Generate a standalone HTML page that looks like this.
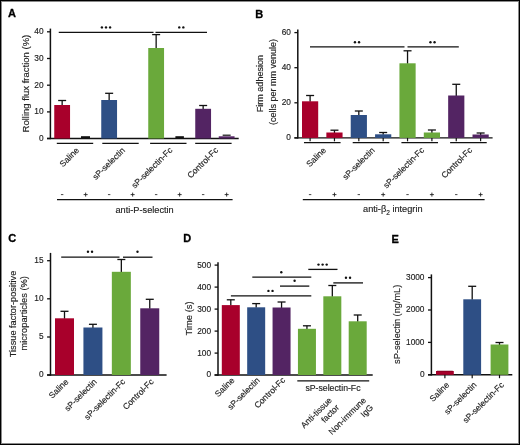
<!DOCTYPE html>
<html><head><meta charset="utf-8"><style>
html,body{margin:0;padding:0;background:#fff;}
body{width:520px;height:445px;overflow:hidden;position:relative;}
svg{position:absolute;left:0;top:0;will-change:transform;}
text{font-family:"Liberation Sans", sans-serif;}
.frame{position:absolute;left:0;top:0;width:520px;height:445px;box-sizing:border-box;border:1px solid #000;}
.frame2{position:absolute;left:1px;top:1px;width:518px;height:443px;box-sizing:border-box;border:1px solid #8a8a8a;}
</style></head><body>
<svg width="520" height="445" viewBox="0 0 520 445">
<text x="8" y="17.3" font-size="11" text-anchor="start" font-weight="bold" fill="#000" stroke="#000" stroke-width="0.3">A</text>
<line x1="50.4" y1="28.6" x2="50.4" y2="139.2" stroke="#111" stroke-width="1.5"/>
<line x1="47.0" y1="31.8" x2="50.4" y2="31.8" stroke="#111" stroke-width="1.3"/>
<text x="43.5" y="34.29" font-size="8.3" text-anchor="end" font-weight="normal" fill="#222" stroke="#222" stroke-width="0.15">40</text>
<line x1="47.0" y1="58.5" x2="50.4" y2="58.5" stroke="#111" stroke-width="1.3"/>
<text x="43.5" y="60.99" font-size="8.3" text-anchor="end" font-weight="normal" fill="#222" stroke="#222" stroke-width="0.15">30</text>
<line x1="47.0" y1="85.2" x2="50.4" y2="85.2" stroke="#111" stroke-width="1.3"/>
<text x="43.5" y="87.69" font-size="8.3" text-anchor="end" font-weight="normal" fill="#222" stroke="#222" stroke-width="0.15">20</text>
<line x1="47.0" y1="111.9" x2="50.4" y2="111.9" stroke="#111" stroke-width="1.3"/>
<text x="43.5" y="114.39" font-size="8.3" text-anchor="end" font-weight="normal" fill="#222" stroke="#222" stroke-width="0.15">10</text>
<line x1="47.0" y1="138.5" x2="50.4" y2="138.5" stroke="#111" stroke-width="1.3"/>
<text x="43.5" y="140.99" font-size="8.3" text-anchor="end" font-weight="normal" fill="#222" stroke="#222" stroke-width="0.15">0</text>
<line x1="47" y1="138.5" x2="238.7" y2="138.5" stroke="#111" stroke-width="1.4"/>
<line x1="62.15" y1="100.5" x2="62.15" y2="105.5" stroke="#111" stroke-width="1.3"/>
<line x1="58.15" y1="100.5" x2="66.15" y2="100.5" stroke="#111" stroke-width="1.3"/>
<rect x="54.25" y="105" width="15.8" height="33.5" fill="#a8002b"/>
<rect x="81" y="136.2" width="9" height="1.8" fill="#111"/>
<line x1="109.15" y1="93.3" x2="109.15" y2="100.5" stroke="#111" stroke-width="1.3"/>
<line x1="105.15" y1="93.3" x2="113.15" y2="93.3" stroke="#111" stroke-width="1.3"/>
<rect x="101.25" y="100" width="15.8" height="38.5" fill="#2e4f85"/>
<line x1="156.15" y1="34.6" x2="156.15" y2="48.5" stroke="#111" stroke-width="1.3"/>
<line x1="152.15" y1="34.6" x2="160.15" y2="34.6" stroke="#111" stroke-width="1.3"/>
<rect x="148.25" y="48" width="15.8" height="90.5" fill="#6aa93b"/>
<rect x="175.4" y="136.2" width="8.5" height="1.8" fill="#111"/>
<line x1="203.15" y1="105.5" x2="203.15" y2="109.3" stroke="#111" stroke-width="1.3"/>
<line x1="199.15" y1="105.5" x2="207.15" y2="105.5" stroke="#111" stroke-width="1.3"/>
<rect x="195.25" y="108.8" width="15.8" height="29.700000000000003" fill="#532463"/>
<rect x="218.75" y="136.3" width="15.8" height="2.2" fill="#532463"/>
<line x1="222.65" y1="135.2" x2="230.65" y2="135.2" stroke="#111" stroke-width="1.2"/>
<line x1="58.75" y1="32.4" x2="153.5" y2="32.4" stroke="#111" stroke-width="1.3"/>
<circle cx="101.90" cy="27.4" r="1.2" fill="#111"/>
<circle cx="106.00" cy="27.4" r="1.2" fill="#111"/>
<circle cx="110.10" cy="27.4" r="1.2" fill="#111"/>
<line x1="155.5" y1="32.4" x2="207" y2="32.4" stroke="#111" stroke-width="1.3"/>
<circle cx="179.25" cy="27.4" r="1.2" fill="#111"/>
<circle cx="183.35" cy="27.4" r="1.2" fill="#111"/>
<line x1="56.8" y1="143.4" x2="93.2" y2="143.4" stroke="#111" stroke-width="1.3"/>
<line x1="102.3" y1="143.4" x2="138.7" y2="143.4" stroke="#111" stroke-width="1.3"/>
<line x1="150.10000000000002" y1="143.4" x2="186.5" y2="143.4" stroke="#111" stroke-width="1.3"/>
<line x1="195.20000000000002" y1="143.4" x2="231.6" y2="143.4" stroke="#111" stroke-width="1.3"/>
<line x1="60.949999999999996" y1="194.6" x2="63.35" y2="194.6" stroke="#333" stroke-width="0.9"/>
<line x1="83.65" y1="194.6" x2="87.65" y2="194.6" stroke="#222" stroke-width="0.9"/>
<line x1="85.65" y1="192.6" x2="85.65" y2="196.6" stroke="#222" stroke-width="0.9"/>
<line x1="107.95" y1="194.6" x2="110.35000000000001" y2="194.6" stroke="#333" stroke-width="0.9"/>
<line x1="130.65" y1="194.6" x2="134.65" y2="194.6" stroke="#222" stroke-width="0.9"/>
<line x1="132.65" y1="192.6" x2="132.65" y2="196.6" stroke="#222" stroke-width="0.9"/>
<line x1="154.95000000000002" y1="194.6" x2="157.35" y2="194.6" stroke="#333" stroke-width="0.9"/>
<line x1="177.65" y1="194.6" x2="181.65" y2="194.6" stroke="#222" stroke-width="0.9"/>
<line x1="179.65" y1="192.6" x2="179.65" y2="196.6" stroke="#222" stroke-width="0.9"/>
<line x1="201.95000000000002" y1="194.6" x2="204.35" y2="194.6" stroke="#333" stroke-width="0.9"/>
<line x1="224.65" y1="194.6" x2="228.65" y2="194.6" stroke="#222" stroke-width="0.9"/>
<line x1="226.65" y1="192.6" x2="226.65" y2="196.6" stroke="#222" stroke-width="0.9"/>
<line x1="57" y1="199.6" x2="232.6" y2="199.6" stroke="#111" stroke-width="1.4"/>
<text x="144.6" y="213.2" font-size="9.2" text-anchor="middle" font-weight="normal" fill="#222" stroke="#222" stroke-width="0.15">anti-P-selectin</text>
<text x="79.6" y="150.8" font-size="8.5" text-anchor="end" font-weight="normal" fill="#222" stroke="#222" stroke-width="0.15" transform="rotate(-45 79.6 150.8)">Saline</text>
<text x="125.5" y="150.8" font-size="8.5" text-anchor="end" font-weight="normal" fill="#222" stroke="#222" stroke-width="0.15" transform="rotate(-45 125.5 150.8)">sP-selectin</text>
<text x="173" y="150.8" font-size="8.5" text-anchor="end" font-weight="normal" fill="#222" stroke="#222" stroke-width="0.15" transform="rotate(-45 173 150.8)">sP-selectin-Fc</text>
<text x="218.8" y="150.8" font-size="8.5" text-anchor="end" font-weight="normal" fill="#222" stroke="#222" stroke-width="0.15" transform="rotate(-45 218.8 150.8)">Control-Fc</text>
<text x="28.6" y="83.6" font-size="9.5" text-anchor="middle" font-weight="normal" fill="#222" stroke="#222" stroke-width="0.15" transform="rotate(-90 28.6 83.6)">Rolling flux fraction (%)</text>
<text x="255.3" y="17.6" font-size="11" text-anchor="start" font-weight="bold" fill="#000" stroke="#000" stroke-width="0.3">B</text>
<line x1="297.8" y1="29.6" x2="297.8" y2="138.6" stroke="#111" stroke-width="1.5"/>
<line x1="294.40000000000003" y1="32.6" x2="297.8" y2="32.6" stroke="#111" stroke-width="1.3"/>
<text x="290.90000000000003" y="35.09" font-size="8.3" text-anchor="end" font-weight="normal" fill="#222" stroke="#222" stroke-width="0.15">60</text>
<line x1="294.40000000000003" y1="67.7" x2="297.8" y2="67.7" stroke="#111" stroke-width="1.3"/>
<text x="290.90000000000003" y="70.19" font-size="8.3" text-anchor="end" font-weight="normal" fill="#222" stroke="#222" stroke-width="0.15">40</text>
<line x1="294.40000000000003" y1="102.8" x2="297.8" y2="102.8" stroke="#111" stroke-width="1.3"/>
<text x="290.90000000000003" y="105.28999999999999" font-size="8.3" text-anchor="end" font-weight="normal" fill="#222" stroke="#222" stroke-width="0.15">20</text>
<line x1="294.40000000000003" y1="137.9" x2="297.8" y2="137.9" stroke="#111" stroke-width="1.3"/>
<text x="290.90000000000003" y="140.39000000000001" font-size="8.3" text-anchor="end" font-weight="normal" fill="#222" stroke="#222" stroke-width="0.15">0</text>
<line x1="294.4" y1="137.9" x2="492.6" y2="137.9" stroke="#111" stroke-width="1.4"/>
<line x1="310.1" y1="95.5" x2="310.1" y2="101.8" stroke="#111" stroke-width="1.3"/>
<line x1="306.1" y1="95.5" x2="314.1" y2="95.5" stroke="#111" stroke-width="1.3"/>
<rect x="302.0" y="101.3" width="16.2" height="36.60000000000001" fill="#a8002b"/>
<line x1="334.46000000000004" y1="130.2" x2="334.46000000000004" y2="133.0" stroke="#111" stroke-width="1.3"/>
<line x1="330.46000000000004" y1="130.2" x2="338.46000000000004" y2="130.2" stroke="#111" stroke-width="1.3"/>
<rect x="326.36" y="132.5" width="16.2" height="5.400000000000006" fill="#a8002b"/>
<line x1="358.82000000000005" y1="111" x2="358.82000000000005" y2="115.5" stroke="#111" stroke-width="1.3"/>
<line x1="354.82000000000005" y1="111" x2="362.82000000000005" y2="111" stroke="#111" stroke-width="1.3"/>
<rect x="350.72" y="115" width="16.2" height="22.900000000000006" fill="#2e4f85"/>
<line x1="383.18" y1="132.5" x2="383.18" y2="134.8" stroke="#111" stroke-width="1.3"/>
<line x1="379.18" y1="132.5" x2="387.18" y2="132.5" stroke="#111" stroke-width="1.3"/>
<rect x="375.08" y="134.3" width="16.2" height="3.5999999999999943" fill="#2e4f85"/>
<line x1="407.54" y1="50.8" x2="407.54" y2="63.8" stroke="#111" stroke-width="1.3"/>
<line x1="403.54" y1="50.8" x2="411.54" y2="50.8" stroke="#111" stroke-width="1.3"/>
<rect x="399.44" y="63.3" width="16.2" height="74.60000000000001" fill="#6aa93b"/>
<line x1="431.90000000000003" y1="130" x2="431.90000000000003" y2="133.0" stroke="#111" stroke-width="1.3"/>
<line x1="427.90000000000003" y1="130" x2="435.90000000000003" y2="130" stroke="#111" stroke-width="1.3"/>
<rect x="423.8" y="132.5" width="16.2" height="5.400000000000006" fill="#6aa93b"/>
<line x1="456.26" y1="84.3" x2="456.26" y2="96.0" stroke="#111" stroke-width="1.3"/>
<line x1="452.26" y1="84.3" x2="460.26" y2="84.3" stroke="#111" stroke-width="1.3"/>
<rect x="448.15999999999997" y="95.5" width="16.2" height="42.400000000000006" fill="#532463"/>
<line x1="480.62" y1="133" x2="480.62" y2="135.0" stroke="#111" stroke-width="1.3"/>
<line x1="476.62" y1="133" x2="484.62" y2="133" stroke="#111" stroke-width="1.3"/>
<rect x="472.52" y="134.5" width="16.2" height="3.4000000000000057" fill="#532463"/>
<line x1="310.1" y1="137.9" x2="310.1" y2="141.3" stroke="#111" stroke-width="1.2"/>
<line x1="334.46000000000004" y1="137.9" x2="334.46000000000004" y2="141.3" stroke="#111" stroke-width="1.2"/>
<line x1="358.82000000000005" y1="137.9" x2="358.82000000000005" y2="141.3" stroke="#111" stroke-width="1.2"/>
<line x1="383.18" y1="137.9" x2="383.18" y2="141.3" stroke="#111" stroke-width="1.2"/>
<line x1="407.54" y1="137.9" x2="407.54" y2="141.3" stroke="#111" stroke-width="1.2"/>
<line x1="431.90000000000003" y1="137.9" x2="431.90000000000003" y2="141.3" stroke="#111" stroke-width="1.2"/>
<line x1="456.26" y1="137.9" x2="456.26" y2="141.3" stroke="#111" stroke-width="1.2"/>
<line x1="480.62" y1="137.9" x2="480.62" y2="141.3" stroke="#111" stroke-width="1.2"/>
<line x1="303.98" y1="142.7" x2="340.58000000000004" y2="142.7" stroke="#111" stroke-width="1.3"/>
<line x1="352.7" y1="142.7" x2="389.3" y2="142.7" stroke="#111" stroke-width="1.3"/>
<line x1="401.42" y1="142.7" x2="438.02000000000004" y2="142.7" stroke="#111" stroke-width="1.3"/>
<line x1="450.14" y1="142.7" x2="486.74" y2="142.7" stroke="#111" stroke-width="1.3"/>
<line x1="310" y1="46.9" x2="404.5" y2="46.9" stroke="#111" stroke-width="1.3"/>
<circle cx="354.95" cy="42.3" r="1.2" fill="#111"/>
<circle cx="359.05" cy="42.3" r="1.2" fill="#111"/>
<line x1="407.5" y1="46.9" x2="458.8" y2="46.9" stroke="#111" stroke-width="1.3"/>
<circle cx="430.45" cy="42.3" r="1.2" fill="#111"/>
<circle cx="434.55" cy="42.3" r="1.2" fill="#111"/>
<line x1="308.90000000000003" y1="194.6" x2="311.3" y2="194.6" stroke="#333" stroke-width="0.9"/>
<line x1="332.46000000000004" y1="194.6" x2="336.46000000000004" y2="194.6" stroke="#222" stroke-width="0.9"/>
<line x1="334.46000000000004" y1="192.6" x2="334.46000000000004" y2="196.6" stroke="#222" stroke-width="0.9"/>
<line x1="357.62000000000006" y1="194.6" x2="360.02000000000004" y2="194.6" stroke="#333" stroke-width="0.9"/>
<line x1="381.18" y1="194.6" x2="385.18" y2="194.6" stroke="#222" stroke-width="0.9"/>
<line x1="383.18" y1="192.6" x2="383.18" y2="196.6" stroke="#222" stroke-width="0.9"/>
<line x1="406.34000000000003" y1="194.6" x2="408.74" y2="194.6" stroke="#333" stroke-width="0.9"/>
<line x1="429.90000000000003" y1="194.6" x2="433.90000000000003" y2="194.6" stroke="#222" stroke-width="0.9"/>
<line x1="431.90000000000003" y1="192.6" x2="431.90000000000003" y2="196.6" stroke="#222" stroke-width="0.9"/>
<line x1="455.06" y1="194.6" x2="457.46" y2="194.6" stroke="#333" stroke-width="0.9"/>
<line x1="478.62" y1="194.6" x2="482.62" y2="194.6" stroke="#222" stroke-width="0.9"/>
<line x1="480.62" y1="192.6" x2="480.62" y2="196.6" stroke="#222" stroke-width="0.9"/>
<line x1="302.8" y1="199.6" x2="484.6" y2="199.6" stroke="#111" stroke-width="1.4"/>
<text x="392.8" y="212.4" font-size="9.2" text-anchor="middle" fill="#222" stroke="#222" stroke-width="0.15">anti-β<tspan font-size="6.5" dy="2.2">2</tspan><tspan dy="-2.2"> integrin</tspan></text>
<text x="326.5" y="150.8" font-size="8.5" text-anchor="end" font-weight="normal" fill="#222" stroke="#222" stroke-width="0.15" transform="rotate(-45 326.5 150.8)">Saline</text>
<text x="375.3" y="150.8" font-size="8.5" text-anchor="end" font-weight="normal" fill="#222" stroke="#222" stroke-width="0.15" transform="rotate(-45 375.3 150.8)">sP-selectin</text>
<text x="424.8" y="150.8" font-size="8.5" text-anchor="end" font-weight="normal" fill="#222" stroke="#222" stroke-width="0.15" transform="rotate(-45 424.8 150.8)">sP-selectin-Fc</text>
<text x="472.8" y="150.8" font-size="8.5" text-anchor="end" font-weight="normal" fill="#222" stroke="#222" stroke-width="0.15" transform="rotate(-45 472.8 150.8)">Control-Fc</text>
<text x="263.4" y="83.6" font-size="9" text-anchor="middle" font-weight="normal" fill="#222" stroke="#222" stroke-width="0.15" transform="rotate(-90 263.4 83.6)">Firm adhesion</text>
<text x="275.6" y="82.1" font-size="9" text-anchor="middle" font-weight="normal" fill="#222" stroke="#222" stroke-width="0.15" transform="rotate(-90 275.6 82.1)">(cells per mm venule)</text>
<text x="8.3" y="242.2" font-size="11" text-anchor="start" font-weight="bold" fill="#000" stroke="#000" stroke-width="0.3">C</text>
<line x1="50.5" y1="252.9" x2="50.5" y2="375.7" stroke="#111" stroke-width="1.5"/>
<line x1="47.1" y1="260.7" x2="50.5" y2="260.7" stroke="#111" stroke-width="1.3"/>
<text x="43.6" y="263.19" font-size="8.3" text-anchor="end" font-weight="normal" fill="#222" stroke="#222" stroke-width="0.15">15</text>
<line x1="47.1" y1="298.8" x2="50.5" y2="298.8" stroke="#111" stroke-width="1.3"/>
<text x="43.6" y="301.29" font-size="8.3" text-anchor="end" font-weight="normal" fill="#222" stroke="#222" stroke-width="0.15">10</text>
<line x1="47.1" y1="337" x2="50.5" y2="337" stroke="#111" stroke-width="1.3"/>
<text x="43.6" y="339.49" font-size="8.3" text-anchor="end" font-weight="normal" fill="#222" stroke="#222" stroke-width="0.15">5</text>
<line x1="47.1" y1="375" x2="50.5" y2="375" stroke="#111" stroke-width="1.3"/>
<text x="43.6" y="377.49" font-size="8.3" text-anchor="end" font-weight="normal" fill="#222" stroke="#222" stroke-width="0.15">0</text>
<line x1="47.1" y1="375" x2="166.6" y2="375" stroke="#111" stroke-width="1.4"/>
<line x1="64.5" y1="311.3" x2="64.5" y2="318.8" stroke="#111" stroke-width="1.3"/>
<line x1="60.5" y1="311.3" x2="68.5" y2="311.3" stroke="#111" stroke-width="1.3"/>
<rect x="55.0" y="318.3" width="19" height="56.69999999999999" fill="#a8002b"/>
<line x1="92.92" y1="324.3" x2="92.92" y2="328.0" stroke="#111" stroke-width="1.3"/>
<line x1="88.92" y1="324.3" x2="96.92" y2="324.3" stroke="#111" stroke-width="1.3"/>
<rect x="83.42" y="327.5" width="19" height="47.5" fill="#2e4f85"/>
<line x1="121.34" y1="259.5" x2="121.34" y2="272.3" stroke="#111" stroke-width="1.3"/>
<line x1="117.34" y1="259.5" x2="125.34" y2="259.5" stroke="#111" stroke-width="1.3"/>
<rect x="111.84" y="271.8" width="19" height="103.19999999999999" fill="#6aa93b"/>
<line x1="149.76" y1="299.3" x2="149.76" y2="308.8" stroke="#111" stroke-width="1.3"/>
<line x1="145.76" y1="299.3" x2="153.76" y2="299.3" stroke="#111" stroke-width="1.3"/>
<rect x="140.26" y="308.3" width="19" height="66.69999999999999" fill="#532463"/>
<line x1="61.2" y1="257.2" x2="119.5" y2="257.2" stroke="#111" stroke-width="1.3"/>
<circle cx="87.95" cy="251.8" r="1.2" fill="#111"/>
<circle cx="92.05" cy="251.8" r="1.2" fill="#111"/>
<line x1="123" y1="257.2" x2="152.5" y2="257.2" stroke="#111" stroke-width="1.3"/>
<circle cx="137.50" cy="251.8" r="1.2" fill="#111"/>
<text x="69.0" y="382.3" font-size="8.5" text-anchor="end" font-weight="normal" fill="#222" stroke="#222" stroke-width="0.15" transform="rotate(-45 69.0 382.3)">Saline</text>
<text x="97.42" y="382.3" font-size="8.5" text-anchor="end" font-weight="normal" fill="#222" stroke="#222" stroke-width="0.15" transform="rotate(-45 97.42 382.3)">sP-selectin</text>
<text x="125.84" y="382.3" font-size="8.5" text-anchor="end" font-weight="normal" fill="#222" stroke="#222" stroke-width="0.15" transform="rotate(-45 125.84 382.3)">sP-selectin-Fc</text>
<text x="154.26" y="382.3" font-size="8.5" text-anchor="end" font-weight="normal" fill="#222" stroke="#222" stroke-width="0.15" transform="rotate(-45 154.26 382.3)">Control-Fc</text>
<text x="15.8" y="314" font-size="9.2" text-anchor="middle" font-weight="normal" fill="#222" stroke="#222" stroke-width="0.15" transform="rotate(-90 15.8 314)">Tissue factor-positive</text>
<text x="27.4" y="313.3" font-size="9.3" text-anchor="middle" font-weight="normal" fill="#222" stroke="#222" stroke-width="0.15" transform="rotate(-90 27.4 313.3)">microparticles (%)</text>
<text x="183.3" y="242.2" font-size="11" text-anchor="start" font-weight="bold" fill="#000" stroke="#000" stroke-width="0.3">D</text>
<line x1="218" y1="262.3" x2="218" y2="375.7" stroke="#111" stroke-width="1.5"/>
<line x1="214.6" y1="265.1" x2="218" y2="265.1" stroke="#111" stroke-width="1.3"/>
<text x="211.1" y="267.59000000000003" font-size="8.3" text-anchor="end" font-weight="normal" fill="#222" stroke="#222" stroke-width="0.15">500</text>
<line x1="214.6" y1="287.1" x2="218" y2="287.1" stroke="#111" stroke-width="1.3"/>
<text x="211.1" y="289.59000000000003" font-size="8.3" text-anchor="end" font-weight="normal" fill="#222" stroke="#222" stroke-width="0.15">400</text>
<line x1="214.6" y1="309.1" x2="218" y2="309.1" stroke="#111" stroke-width="1.3"/>
<text x="211.1" y="311.59000000000003" font-size="8.3" text-anchor="end" font-weight="normal" fill="#222" stroke="#222" stroke-width="0.15">300</text>
<line x1="214.6" y1="331.1" x2="218" y2="331.1" stroke="#111" stroke-width="1.3"/>
<text x="211.1" y="333.59000000000003" font-size="8.3" text-anchor="end" font-weight="normal" fill="#222" stroke="#222" stroke-width="0.15">200</text>
<line x1="214.6" y1="353.1" x2="218" y2="353.1" stroke="#111" stroke-width="1.3"/>
<text x="211.1" y="355.59000000000003" font-size="8.3" text-anchor="end" font-weight="normal" fill="#222" stroke="#222" stroke-width="0.15">100</text>
<line x1="214.6" y1="375" x2="218" y2="375" stroke="#111" stroke-width="1.3"/>
<text x="211.1" y="377.49" font-size="8.3" text-anchor="end" font-weight="normal" fill="#222" stroke="#222" stroke-width="0.15">0</text>
<line x1="214.6" y1="375" x2="372.7" y2="375" stroke="#111" stroke-width="1.4"/>
<line x1="230.8" y1="299.8" x2="230.8" y2="305.6" stroke="#111" stroke-width="1.3"/>
<line x1="226.8" y1="299.8" x2="234.8" y2="299.8" stroke="#111" stroke-width="1.3"/>
<rect x="221.8" y="305.1" width="18" height="69.89999999999998" fill="#a8002b"/>
<line x1="256.18" y1="303.6" x2="256.18" y2="307.8" stroke="#111" stroke-width="1.3"/>
<line x1="252.18" y1="303.6" x2="260.18" y2="303.6" stroke="#111" stroke-width="1.3"/>
<rect x="247.18" y="307.3" width="18" height="67.69999999999999" fill="#2e4f85"/>
<line x1="281.56" y1="302" x2="281.56" y2="308.0" stroke="#111" stroke-width="1.3"/>
<line x1="277.56" y1="302" x2="285.56" y2="302" stroke="#111" stroke-width="1.3"/>
<rect x="272.56" y="307.5" width="18" height="67.5" fill="#532463"/>
<line x1="306.94" y1="325.8" x2="306.94" y2="329.3" stroke="#111" stroke-width="1.3"/>
<line x1="302.94" y1="325.8" x2="310.94" y2="325.8" stroke="#111" stroke-width="1.3"/>
<rect x="297.94" y="328.8" width="18" height="46.19999999999999" fill="#6aa93b"/>
<line x1="332.32" y1="285.5" x2="332.32" y2="296.8" stroke="#111" stroke-width="1.3"/>
<line x1="328.32" y1="285.5" x2="336.32" y2="285.5" stroke="#111" stroke-width="1.3"/>
<rect x="323.32" y="296.3" width="18" height="78.69999999999999" fill="#6aa93b"/>
<line x1="357.7" y1="315" x2="357.7" y2="321.8" stroke="#111" stroke-width="1.3"/>
<line x1="353.7" y1="315" x2="361.7" y2="315" stroke="#111" stroke-width="1.3"/>
<rect x="348.7" y="321.3" width="18" height="53.69999999999999" fill="#6aa93b"/>
<line x1="308.3" y1="269.4" x2="337.5" y2="269.4" stroke="#111" stroke-width="1.3"/>
<circle cx="318.50" cy="264.6" r="1.2" fill="#111"/>
<circle cx="322.60" cy="264.6" r="1.2" fill="#111"/>
<circle cx="326.70" cy="264.6" r="1.2" fill="#111"/>
<line x1="252.3" y1="277.1" x2="311.3" y2="277.1" stroke="#111" stroke-width="1.3"/>
<circle cx="281.30" cy="272.2" r="1.2" fill="#111"/>
<line x1="280" y1="286.1" x2="309.3" y2="286.1" stroke="#111" stroke-width="1.3"/>
<circle cx="294.60" cy="280.8" r="1.2" fill="#111"/>
<line x1="230.9" y1="295.9" x2="311.3" y2="295.9" stroke="#111" stroke-width="1.3"/>
<circle cx="268.45" cy="290.9" r="1.2" fill="#111"/>
<circle cx="272.55" cy="290.9" r="1.2" fill="#111"/>
<line x1="333.3" y1="282.9" x2="363" y2="282.9" stroke="#111" stroke-width="1.3"/>
<circle cx="345.95" cy="277.7" r="1.2" fill="#111"/>
<circle cx="350.05" cy="277.7" r="1.2" fill="#111"/>
<text x="235.0" y="380.8" font-size="8.5" text-anchor="end" font-weight="normal" fill="#222" stroke="#222" stroke-width="0.15" transform="rotate(-45 235.0 380.8)">Saline</text>
<text x="260.38" y="380.8" font-size="8.5" text-anchor="end" font-weight="normal" fill="#222" stroke="#222" stroke-width="0.15" transform="rotate(-45 260.38 380.8)">sP-selectin</text>
<text x="285.76" y="380.8" font-size="8.5" text-anchor="end" font-weight="normal" fill="#222" stroke="#222" stroke-width="0.15" transform="rotate(-45 285.76 380.8)">Control-Fc</text>
<line x1="297.3" y1="380.9" x2="369.2" y2="380.9" stroke="#111" stroke-width="1.3"/>
<text x="333" y="391.3" font-size="8.7" text-anchor="middle" font-weight="normal" fill="#222" stroke="#222" stroke-width="0.15">sP-selectin-Fc</text>
<text x="332.42" y="400.8" font-size="8.5" text-anchor="end" font-weight="normal" fill="#222" stroke="#222" stroke-width="0.15" transform="rotate(-45 332.42 400.8)">Anti-tissue</text>
<text x="339.72" y="408.1" font-size="8.5" text-anchor="end" font-weight="normal" fill="#222" stroke="#222" stroke-width="0.15" transform="rotate(-45 339.72 408.1)">factor</text>
<text x="366.5" y="400.8" font-size="8.5" text-anchor="end" font-weight="normal" fill="#222" stroke="#222" stroke-width="0.15" transform="rotate(-45 366.5 400.8)">Non-immune</text>
<text x="373.8" y="408.1" font-size="8.5" text-anchor="end" font-weight="normal" fill="#222" stroke="#222" stroke-width="0.15" transform="rotate(-45 373.8 408.1)">IgG</text>
<text x="191.9" y="318.4" font-size="9.4" text-anchor="middle" font-weight="normal" fill="#222" stroke="#222" stroke-width="0.15" transform="rotate(-90 191.9 318.4)">Time (s)</text>
<text x="391.5" y="242.6" font-size="11" text-anchor="start" font-weight="bold" fill="#000" stroke="#000" stroke-width="0.3">E</text>
<line x1="431.4" y1="274.4" x2="431.4" y2="375.5" stroke="#111" stroke-width="1.5"/>
<line x1="428.0" y1="277.6" x2="431.4" y2="277.6" stroke="#111" stroke-width="1.3"/>
<text x="424.5" y="280.09000000000003" font-size="8.3" text-anchor="end" font-weight="normal" fill="#222" stroke="#222" stroke-width="0.15">3000</text>
<line x1="428.0" y1="310" x2="431.4" y2="310" stroke="#111" stroke-width="1.3"/>
<text x="424.5" y="312.49" font-size="8.3" text-anchor="end" font-weight="normal" fill="#222" stroke="#222" stroke-width="0.15">2000</text>
<line x1="428.0" y1="342.4" x2="431.4" y2="342.4" stroke="#111" stroke-width="1.3"/>
<text x="424.5" y="344.89" font-size="8.3" text-anchor="end" font-weight="normal" fill="#222" stroke="#222" stroke-width="0.15">1000</text>
<line x1="428.0" y1="374.8" x2="431.4" y2="374.8" stroke="#111" stroke-width="1.3"/>
<text x="424.5" y="377.29" font-size="8.3" text-anchor="end" font-weight="normal" fill="#222" stroke="#222" stroke-width="0.15">0</text>
<line x1="428" y1="374.8" x2="512.3" y2="374.8" stroke="#111" stroke-width="1.4"/>
<rect x="436.0" y="371.0" width="17.8" height="3.8000000000000114" fill="#a8002b"/>
<line x1="437.0" y1="371.2" x2="452.8" y2="371.2" stroke="#7a0020" stroke-width="0.8"/>
<line x1="472.2" y1="286.3" x2="472.2" y2="299.8" stroke="#111" stroke-width="1.3"/>
<line x1="468.2" y1="286.3" x2="476.2" y2="286.3" stroke="#111" stroke-width="1.3"/>
<rect x="463.3" y="299.3" width="17.8" height="75.5" fill="#2e4f85"/>
<line x1="499.5" y1="342.5" x2="499.5" y2="345.0" stroke="#111" stroke-width="1.3"/>
<line x1="495.5" y1="342.5" x2="503.5" y2="342.5" stroke="#111" stroke-width="1.3"/>
<rect x="490.6" y="344.5" width="17.8" height="30.30000000000001" fill="#6aa93b"/>
<line x1="444.9" y1="374.8" x2="444.9" y2="378.2" stroke="#111" stroke-width="1.2"/>
<line x1="472.2" y1="374.8" x2="472.2" y2="378.2" stroke="#111" stroke-width="1.2"/>
<line x1="499.5" y1="374.8" x2="499.5" y2="378.2" stroke="#111" stroke-width="1.2"/>
<text x="449.79999999999995" y="385.5" font-size="8.5" text-anchor="end" font-weight="normal" fill="#222" stroke="#222" stroke-width="0.15" transform="rotate(-45 449.79999999999995 385.5)">Saline</text>
<text x="477.09999999999997" y="385.5" font-size="8.5" text-anchor="end" font-weight="normal" fill="#222" stroke="#222" stroke-width="0.15" transform="rotate(-45 477.09999999999997 385.5)">sP-selectin</text>
<text x="504.4" y="385.5" font-size="8.5" text-anchor="end" font-weight="normal" fill="#222" stroke="#222" stroke-width="0.15" transform="rotate(-45 504.4 385.5)">sP-selectin-Fc</text>
<text x="399.8" y="324.3" font-size="9.2" text-anchor="middle" font-weight="normal" fill="#222" stroke="#222" stroke-width="0.15" transform="rotate(-90 399.8 324.3)">sP-selectin (ng/mL)</text>
</svg>
<div class="frame2"></div><div class="frame"></div>
</body></html>
